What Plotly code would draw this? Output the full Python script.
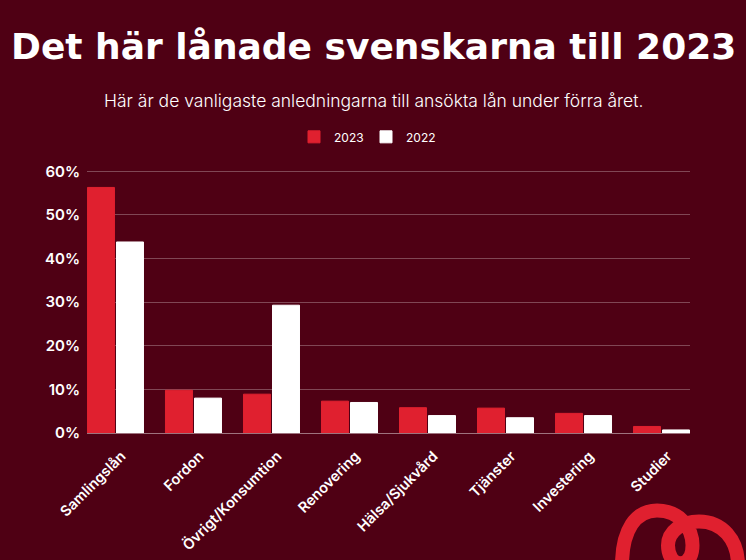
import plotly.graph_objects as go

# data
categories = ["Samlingslån", "Fordon", "Övrigt/Konsumtion", "Renovering",
              "Hälsa/Sjukvård", "Tjänster", "Investering", "Studier"]
values_2023 = [56.3, 9.8, 8.9, 7.3, 5.8, 5.7, 4.5, 1.5]
values_2022 = [43.8, 8.0, 29.3, 7.0, 4.0, 3.5, 4.0, 0.7]
y_ticks = [0, 10, 20, 30, 40, 50, 60]
y_labels = ["0%", "10%", "20%", "30%", "40%", "50%", "60%"]

BG = "#4f0014"
RED = "#e0202f"
W, H = 746, 560
L, R, T, B = 87, 56, 170.2, 126.5


def px(x):
    return (x - L) / (W - L - R)


def py(y):
    return (H - B - y) / (H - T - B)


fig = go.Figure()
fig.add_trace(go.Bar(name="2023", x=categories, y=values_2023,
                     marker=dict(color=RED, line=dict(color=RED, width=1))))
fig.add_trace(go.Bar(name="2022", x=categories, y=values_2022,
                     marker=dict(color="white", line=dict(color="white", width=1))))

# logo at the bottom right
logo = (f"M {px(622)},{py(566)} C {px(622)},{py(530)} {px(636)},{py(511)} {px(657)},{py(511)} "
        f"C {px(681)},{py(511)} {px(692.5)},{py(530)} {px(692.5)},{py(546)} "
        f"C {px(692.5)},{py(558)} {px(687)},{py(564)} {px(680)},{py(564)} "
        f"C {px(673)},{py(564)} {px(668)},{py(556)} {px(668)},{py(546)} "
        f"C {px(668)},{py(532)} {px(682)},{py(522)} {px(699)},{py(522)} "
        f"C {px(722)},{py(522)} {px(738)},{py(540)} {px(738)},{py(566)}")

fig.update_layout(
    width=W, height=H,
    margin=dict(l=L, r=R, t=T, b=B),
    paper_bgcolor=BG, plot_bgcolor=BG,
    font=dict(family="Inter", color="white"),
    barmode="group", bargap=0.256, bargroupgap=0.07,
    legend=dict(orientation="h", x=px(366), xanchor="center", y=py(137), yanchor="middle",
                font=dict(size=12, family="Inter"), itemclick=False, itemwidth=30,
                entrywidth=27),
    shapes=[dict(type="path", path=logo, xref="paper", yref="paper",
                 line=dict(color=RED, width=14), layer="above")],
    annotations=[
        dict(text="<b>Det här lånade svenskarna till 2023</b>", xref="paper", yref="paper",
             x=px(373), y=py(47), xanchor="center", yanchor="middle", showarrow=False,
             font=dict(family="DejaVu Sans", size=36, color="white")),
        dict(text="Här är de vanligaste anledningarna till ansökta lån under förra året.",
             xref="paper", yref="paper", x=px(373), y=py(101), xanchor="center",
             yanchor="middle", showarrow=False,
             font=dict(family="Inter", size=17.5, color="white", weight=300)),
    ],
)
fig.update_xaxes(range=[-0.365, 7.365], tickangle=-45, showgrid=False, ticks="",
                 ticklabelstandoff=8, ticklabelshift=6, automargin=False,
                 tickfont=dict(size=14.5, family="Inter", weight=600),
                 showline=True, linecolor="rgba(255,255,255,0.45)", linewidth=1)
fig.update_yaxes(range=[0, 60.3], tickvals=y_ticks, ticktext=y_labels, zeroline=False,
                 gridcolor="rgba(255,255,255,0.28)", gridwidth=1, showline=False,
                 ticklabelstandoff=6, automargin=False,
                 tickfont=dict(size=15, family="Inter", weight=600))

fig.write_html("out.html", post_script="document.body.style.margin='0';",
               config=dict(displayModeBar=False))
